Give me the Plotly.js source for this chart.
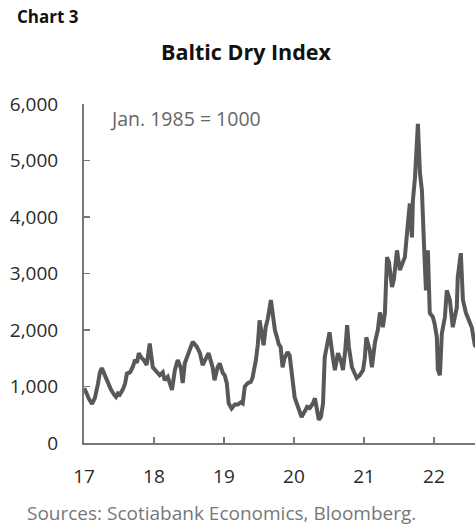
<!DOCTYPE html>
<html>
<head>
<meta charset="utf-8">
<script src="https://cdn.plot.ly/plotly-3.0.1.min.js"></script>
<style>html,body{margin:0;padding:0;background:#fff;}#chart{width:475px;height:531px;}</style>
</head>
<body>
<div id="chart"></div>
<script>
const dates = [
'2017-01-03','2017-01-11','2017-01-27','2017-02-12','2017-02-27','2017-03-15','2017-03-25','2017-04-04','2017-04-20','2017-05-05','2017-05-21','2017-06-06','2017-06-17','2017-06-27','2017-07-07','2017-07-23','2017-08-03','2017-08-13','2017-08-29','2017-09-13','2017-09-24','2017-10-04','2017-10-14','2017-10-30','2017-11-09','2017-11-24','2017-12-03','2017-12-10','2017-12-18','2017-12-26',
'2018-01-05','2018-01-16','2018-01-31','2018-02-16','2018-02-26','2018-03-14','2018-03-24','2018-04-05','2018-04-20','2018-05-05','2018-05-21','2018-05-31','2018-06-11','2018-06-27','2018-07-07','2018-07-22','2018-08-13','2018-08-29','2018-09-12','2018-10-04','2018-10-13','2018-11-03','2018-11-13','2018-11-29','2018-12-10','2018-12-26',
'2019-01-05','2019-01-16','2019-01-26','2019-02-10','2019-02-27','2019-03-14','2019-03-30','2019-04-09','2019-04-20','2019-05-05','2019-05-21','2019-05-30','2019-06-17','2019-06-27','2019-07-06','2019-07-17','2019-07-27','2019-08-07','2019-08-18','2019-09-03','2019-09-13','2019-09-24','2019-10-05','2019-10-14','2019-10-24','2019-11-03','2019-11-13','2019-11-29','2019-12-10','2019-12-20',
'2020-01-05','2020-01-16','2020-01-31','2020-02-10','2020-02-27','2020-03-10','2020-03-24','2020-04-09','2020-04-20','2020-04-30','2020-05-10','2020-05-21','2020-06-01','2020-06-10','2020-06-27','2020-07-05','2020-07-23','2020-08-02','2020-08-18','2020-09-03','2020-09-13','2020-09-24','2020-10-05','2020-10-14','2020-10-30','2020-11-13','2020-11-24','2020-12-10','2020-12-27',
'2021-01-05','2021-01-13','2021-01-31','2021-02-11','2021-02-27','2021-03-14','2021-03-25','2021-04-09','2021-04-20','2021-04-25','2021-05-01','2021-05-11','2021-05-27','2021-06-06','2021-06-22','2021-07-07','2021-07-22','2021-08-02','2021-08-18','2021-08-28','2021-09-08','2021-09-13','2021-09-24','2021-09-29','2021-10-09','2021-10-20','2021-10-30','2021-11-09','2021-11-14','2021-11-20','2021-11-30','2021-12-10','2021-12-26',
'2022-01-05','2022-01-16','2022-01-21','2022-02-01','2022-02-11','2022-02-27','2022-03-09','2022-03-25','2022-04-09','2022-04-30','2022-05-05','2022-05-21','2022-06-01','2022-06-17','2022-06-27','2022-07-17','2022-08-02','2022-08-08'
];
const bdi = [
970,900,780,690,800,1050,1250,1325,1200,1050,950,860,815,880,860,950,1050,1230,1250,1350,1470,1420,1590,1500,1470,1380,1550,1760,1550,1340,
1300,1250,1200,1250,1110,1170,1050,940,1290,1470,1330,1060,1410,1550,1640,1790,1700,1590,1380,1555,1590,1340,1110,1340,1410,1240,
1200,1060,700,610,680,680,720,700,1000,1060,1080,1150,1470,1750,2170,1950,1730,2050,2200,2530,2250,2000,1870,1750,1700,1340,1500,1610,1550,1250,
810,700,550,460,560,640,620,700,790,600,410,460,700,1520,1800,1960,1500,1290,1590,1450,1290,1600,2085,1700,1340,1250,1150,1200,1290,
1500,1870,1640,1340,1780,2000,2310,2050,2300,2760,3290,3200,2760,2900,3410,3060,3200,3290,3890,4240,3640,4290,4700,5180,5650,4770,4470,3590,2830,2700,3410,2300,2230,
2100,1870,1300,1200,1940,2230,2700,2530,2050,2400,2930,3360,2530,2300,2230,2050,1730,1700
];
const yTicks = [0,1000,2000,3000,4000,5000,6000];
const xTickVals = ['2017-01-01','2018-01-01','2019-01-01','2020-01-01','2021-01-01','2022-01-01'];
const xTickText = ['17','18','19','20','21','22'];

const font = 'Open Sans, Lato, sans-serif';
const data = [{
  x: dates, y: bdi, type: 'scatter', mode: 'lines',
  line: {color: '#585858', width: 4}, hoverinfo: 'skip'
}];
const layout = {
  width: 475, height: 531,
  margin: {l: 84, r: 0, t: 103.5, b: 88, pad: 0},
  paper_bgcolor: '#fff', plot_bgcolor: '#fff',
  showlegend: false,
  font: {family: font, size: 19, color: '#222'},
  title: {text: '<b>Baltic Dry Index</b>', x: 246/475, xanchor: 'center', xref: 'container', y: 1 - 52/531, yanchor: 'middle', yref: 'container', font: {family: font, size: 21.5, color: '#111'}},
  xaxis: {
    type: 'date', range: ['2017-01-01', '2022-08-03'],
    tickvals: xTickVals, ticktext: xTickText,
    ticks: 'inside', ticklen: 6, tickwidth: 1.5, tickcolor: '#777',
    showline: true, linecolor: '#777', linewidth: 2,
    showgrid: false, zeroline: false, ticklabelstandoff: 15,
    tickfont: {family: font, size: 19, color: '#2a2a2a'}
  },
  yaxis: {
    range: [0, 6000], tickvals: yTicks, tickformat: ',',
    ticks: 'inside', ticklen: 6, tickwidth: 1.5, tickcolor: '#777',
    showline: true, linecolor: '#777', linewidth: 2,
    showgrid: false, zeroline: false, ticklabelstandoff: 20,
    tickfont: {family: font, size: 19, color: '#2a2a2a'}
  },
  annotations: [
    {text: '<b>Chart 3</b>', xref: 'paper', yref: 'paper', x: (15-84)/391, y: 1 + (103.5-16)/339.5, xanchor: 'left', yanchor: 'middle', showarrow: false, font: {family: font, size: 17, color: '#111'}},
    {text: 'Jan. 1985 = 1000', xref: 'paper', yref: 'paper', x: (108-84)/391, y: (443-118)/339.5, xanchor: 'left', yanchor: 'middle', showarrow: false, font: {family: font, size: 19.5, color: '#666'}},
    {text: 'Sources: Scotiabank Economics, Bloomberg.', xref: 'paper', yref: 'paper', x: (25-84)/391, y: -(513-443)/339.5, xanchor: 'left', yanchor: 'middle', showarrow: false, font: {family: font, size: 19, color: '#777'}}
  ]
};
Plotly.newPlot('chart', data, layout, {displayModeBar: false, staticPlot: true});
</script>
</body>
</html>
